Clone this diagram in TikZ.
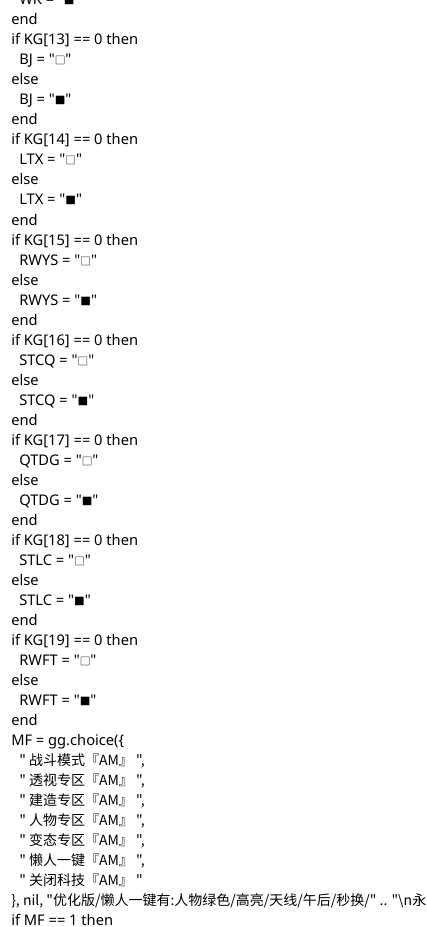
\documentclass[tikz,border=0pt]{standalone}
\usepackage{fontspec}
\newfontfamily\latin{Noto Sans}
\newfontfamily\cjk{Noto Sans CJK SC}
\usetikzlibrary{positioning}
\newcommand{\offbox}{{\cjk\fontsize{8}{8}\selectfont □}}
\newcommand{\onbox}{{\cjk\fontsize{8}{8}\selectfont ■}}

\begin{document}
\begin{tikzpicture}[
    x=0.75pt, y=-0.75pt,
    code/.style={anchor=base west, inner sep=0pt, font=\latin\fontsize{11}{15}\selectfont},
    item/.style={code, font=\cjk\fontsize{10.5}{15}\selectfont}
]
\useasboundingbox (0,0) rectangle (427,927);
\clip (0,0) rectangle (427,927);

% Top of the previous block
\node[code] (wk) at (19,5) {WK = "\onbox"};
\node[code] (wkend) at (11,25) {end};

% KG switches
\foreach \n/\var [count=\j from 0] in {13/BJ,14/LTX,15/RWYS,16/STCQ,17/QTDG,18/STLC,19/RWFT} {
  \pgfmathsetmacro\yy{45+100*\j}
  \node[code] (if\n) at (11,\yy) {if KG[\n] == 0 then};
  \node[code] (off\n) at (19,\yy+20) {\var{} = "\offbox"};
  \node[code] (else\n) at (11,\yy+40) {else};
  \node[code] (on\n) at (19,\yy+60) {\var{} = "\onbox"};
  \node[code] (end\n) at (11,\yy+80) {end};
}

% Menu
\node[code] (mf) at (11,745) {MF = gg.choice(\{};
\foreach \txt [count=\i from 0] in {战斗模式,透视专区,建造专区,人物专区,变态专区,懒人一键} {
  \node[item] (menu\i) at (19,765+20*\i) {" \txt『AM』 ",};
}
\node[item] (menu6) at (19,885) {" 关闭科技『AM』 "};
\node[item] (nil) at (11,905) {\}, nil, "优化版/懒人一键有:人物绿色/高亮/天线/午后/秒换/" .. "\textbackslash n永久};
\node[code] (ifmf) at (11,925) {if MF == 1 then};
\end{tikzpicture}
\end{document}
